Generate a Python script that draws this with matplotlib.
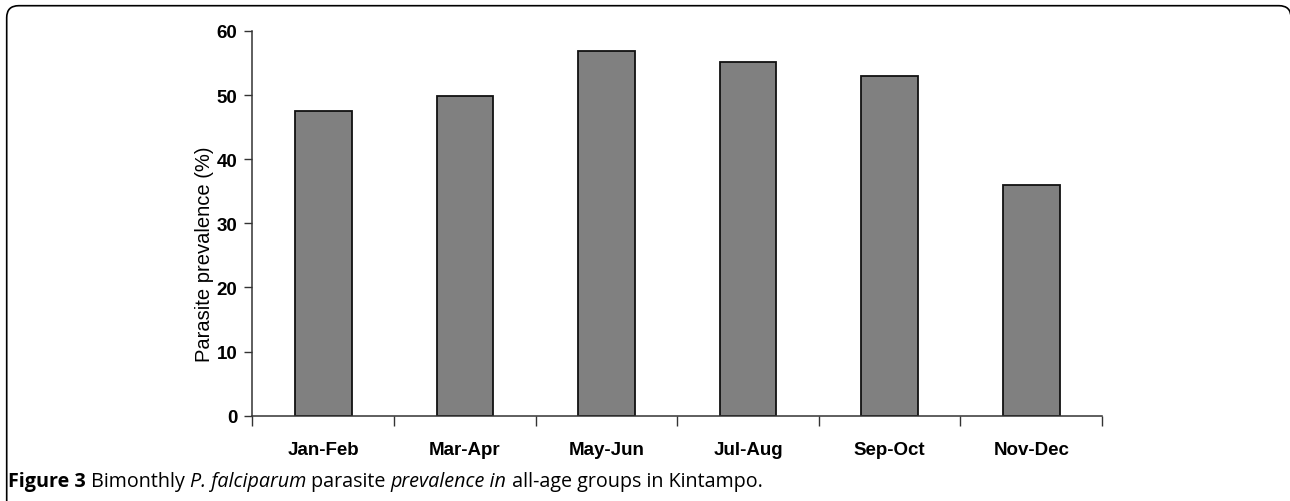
import matplotlib
matplotlib.use("Agg")
import matplotlib.pyplot as plt
from matplotlib.patches import FancyBboxPatch
from matplotlib.transforms import IdentityTransform
import numpy as np

categories = ["Jan-Feb", "Mar-Apr", "May-Jun", "Jul-Aug", "Sep-Oct", "Nov-Dec"]
prevalence = [47.5, 49.8, 56.9, 55.1, 53.0, 36.0]
y_ticks = [0, 10, 20, 30, 40, 50, 60]
y_label = "Parasite prevalence (%)"
caption_parts = [
    ("Figure 3", "bold", "normal"),
    (" Bimonthly ", "normal", "normal"),
    ("P. falciparum", "normal", "italic"),
    (" parasite ", "normal", "normal"),
    ("prevalence in", "normal", "italic"),
    (" all-age groups in Kintampo.", "normal", "normal"),
]

W, H, DPI = 1290, 502, 100
fig = plt.figure(figsize=(W / DPI, H / DPI), dpi=DPI)
ax = fig.add_axes([252.5 / W, 1 - 416.7 / H, (1102 - 252.5) / W, (416.7 - 32) / H])

chart_font = ["Liberation Sans", "DejaVu Sans"]
x = np.arange(len(categories))
ax.bar(x, prevalence, width=0.40, color="#808080", edgecolor="#111111", linewidth=1.3, zorder=2)

ax.set_xlim(-0.5, len(categories) - 0.5)
ax.set_ylim(0, 60)
ax.set_yticks(y_ticks)
ax.set_yticklabels([str(v) for v in y_ticks], fontfamily=chart_font, fontweight="bold", fontsize=13.5)
ax.set_xticks(x)
ax.set_xticklabels(categories, fontfamily=chart_font, fontweight="bold", fontsize=13.5)
ax.set_xticks(np.arange(-0.5, len(categories)), minor=True)
ax.tick_params(axis="x", which="major", length=0, pad=18)
ax.tick_params(axis="x", which="minor", length=7, width=1, color="#333333", direction="out")
ax.tick_params(axis="y", length=6, width=1, color="#333333", pad=5)

for s in ["top", "right"]:
    ax.spines[s].set_visible(False)
for s in ["left", "bottom"]:
    ax.spines[s].set_color("#333333")
    ax.spines[s].set_linewidth(1.1)

fig.text(205 / W, 1 - 254 / H, y_label, rotation=90, ha="center", va="center",
         fontfamily=chart_font, fontsize=14.5)

# outer frame (rounded top corners)
frame = FancyBboxPatch((6.7, -40), 1291 - 6.7, (H - 6.7) + 40,
                       boxstyle="round,pad=0,rounding_size=12",
                       transform=IdentityTransform(), fill=False,
                       edgecolor="black", linewidth=1.2)
fig.add_artist(frame)

# caption built from pieces
fig.canvas.draw()
renderer = fig.canvas.get_renderer()
xpos = 8.0
base_y = H - 487
for txt, weight, style in caption_parts:
    t = fig.text(xpos / W, base_y / H, txt, fontfamily=["Open Sans", "DejaVu Sans"],
                 fontsize=14.2, fontweight=weight, fontstyle=style, va="baseline", ha="left")
    bb = t.get_window_extent(renderer)
    xpos += bb.width

fig.savefig("out.png", dpi=DPI)
